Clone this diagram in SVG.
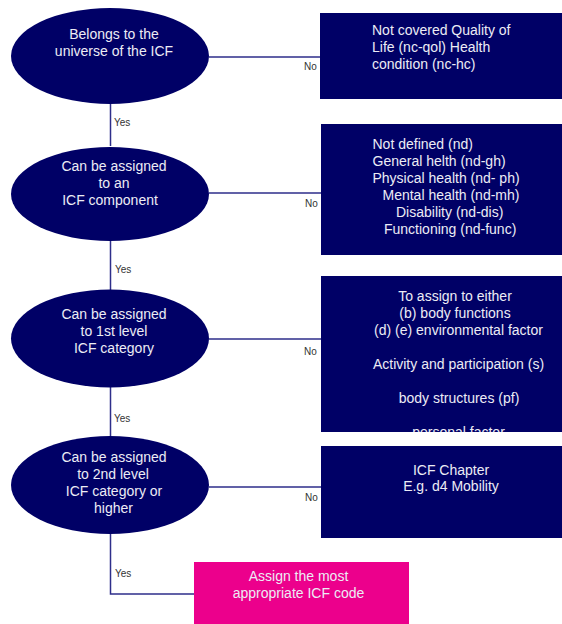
<svg xmlns="http://www.w3.org/2000/svg" width="562" height="624" viewBox="0 0 562 624">
<style>
.dec{fill:#000066}
.box{fill:#000066}
.fin{fill:#ec008c}
.t{font-family:"Liberation Sans",Arial,sans-serif;font-size:14px;fill:#ececf5}
.c{text-anchor:middle}
.lbl{font-family:"Liberation Sans",Arial,sans-serif;font-size:10px;fill:#333333}
.ln{stroke:#2e2e8a;stroke-width:1.5;fill:none}
</style>
<defs>
<clipPath id="clip3"><rect x="321" y="276" width="241" height="156"/></clipPath>
</defs>
<g id="connectors">
<path class="ln" d="M110.5 104 V146 M110.5 240 V290 M110.5 387 V436 M110.5 533 V594 H194"/>
<path class="ln" d="M209 57 H320 M209 193 H321 M209 339 H321 M209 487 H321"/>
<text class="lbl" x="114" y="126">Yes</text>
<text class="lbl" x="115" y="273">Yes</text>
<text class="lbl" x="114" y="422">Yes</text>
<text class="lbl" x="115" y="577">Yes</text>
<text class="lbl" x="304" y="70">No</text>
<text class="lbl" x="305" y="207">No</text>
<text class="lbl" x="304" y="355">No</text>
<text class="lbl" x="305" y="501">No</text>
</g>
<g id="q1">
<ellipse class="dec" cx="110" cy="56" rx="99" ry="48"/>
<text class="t c" x="114" y="39">Belongs to the</text>
<text class="t c" x="114" y="56">universe of the ICF</text>
</g>
<g id="r1">
<rect class="box" x="320" y="13" width="250" height="86"/>
<text class="t" x="372" y="35">Not covered Quality of</text>
<text class="t" x="372" y="52">Life (nc-qol) Health</text>
<text class="t" x="372" y="69">condition (nc-hc)</text>
</g>
<g id="q2">
<ellipse class="dec" cx="110" cy="194" rx="99" ry="47"/>
<text class="t c" x="114" y="171">Can be assigned</text>
<text class="t c" x="114" y="188">to an</text>
<text class="t c" x="110" y="205">ICF component</text>
</g>
<g id="r2">
<rect class="box" x="321" y="124" width="250" height="131"/>
<text class="t" x="372.5" y="149">Not defined (nd)</text>
<text class="t" x="372.5" y="166">General helth (nd-gh)</text>
<text class="t" x="372.5" y="183">Physical health (nd- ph)</text>
<text class="t" x="382.5" y="200">Mental health (nd-mh)</text>
<text class="t" x="396" y="217">Disability (nd-dis)</text>
<text class="t" x="384" y="234">Functioning (nd-func)</text>
</g>
<g id="q3">
<ellipse class="dec" cx="110" cy="338.5" rx="99" ry="49"/>
<text class="t c" x="114" y="319">Can be assigned</text>
<text class="t c" x="114" y="336">to 1st level</text>
<text class="t c" x="114" y="353">ICF category</text>
</g>
<g id="r3">
<rect class="box" x="321" y="276" width="250" height="156"/>
<g clip-path="url(#clip3)">
<text class="t c" x="455" y="301">To assign to either</text>
<text class="t c" x="455" y="318">(b) body functions</text>
<text class="t c" x="458.5" y="335">(d) (e) environmental factor</text>
<text class="t c" x="458.5" y="369">Activity and participation (s)</text>
<text class="t c" x="459" y="403">body structures (pf)</text>
<text class="t c" x="458.5" y="437">personal factor</text>
</g>
</g>
<g id="q4">
<ellipse class="dec" cx="110" cy="485" rx="99" ry="49"/>
<text class="t c" x="114" y="462">Can be assigned</text>
<text class="t c" x="113" y="479">to 2nd level</text>
<text class="t c" x="114" y="496">ICF category or</text>
<text class="t c" x="113.5" y="513">higher</text>
</g>
<g id="r4">
<rect class="box" x="321" y="446" width="250" height="92"/>
<text class="t c" x="451" y="475">ICF Chapter</text>
<text class="t c" x="451" y="491">E.g. d4 Mobility</text>
</g>
<g id="final">
<rect class="fin" x="194" y="562" width="215" height="70"/>
<text class="t c" x="298.5" y="581">Assign the most</text>
<text class="t c" x="298.5" y="598">appropriate ICF code</text>
</g>
</svg>
